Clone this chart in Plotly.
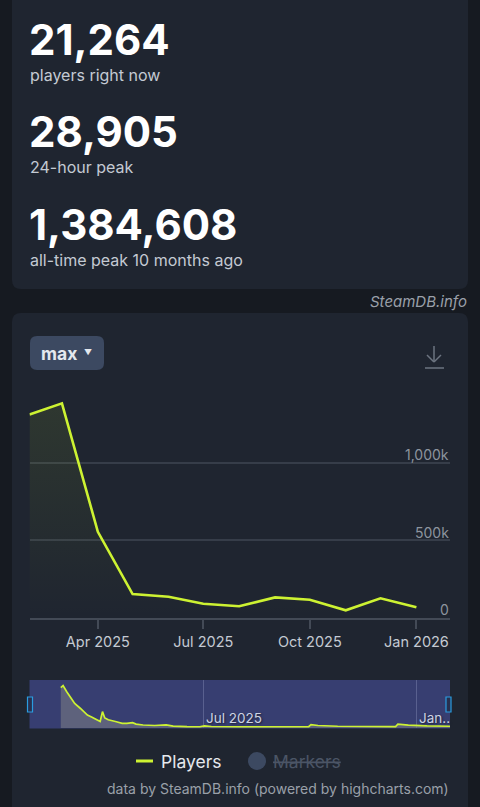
import plotly.graph_objects as go

W, H = 480, 807

# monthly points (main chart)
month_dates = ["2025-02-01", "2025-03-01", "2025-04-01", "2025-05-01", "2025-06-01", "2025-07-01",
               "2025-08-01", "2025-09-01", "2025-10-01", "2025-11-01", "2025-12-01", "2026-01-01"]
month_players = [1312000, 1384608, 555000, 153000, 135000, 90000,
                 74000, 131000, 116000, 48000, 125000, 67000]

# navigator series (daily-ish)
nav_dates = ["2025-02-28", "2025-03-02", "2025-03-05", "2025-03-08", "2025-03-12", "2025-03-17",
             "2025-03-20", "2025-03-23", "2025-03-27", "2025-04-01", "2025-04-03", "2025-04-05",
             "2025-04-07", "2025-04-10", "2025-04-13", "2025-04-17", "2025-04-22", "2025-04-26",
             "2025-05-01", "2025-05-04", "2025-05-10", "2025-05-20", "2025-05-30", "2025-06-05",
             "2025-06-17", "2025-06-28", "2025-07-02", "2025-07-08", "2025-08-01", "2025-09-01",
             "2025-09-30", "2025-10-02", "2025-10-08", "2025-10-25", "2025-11-15", "2025-12-01",
             "2025-12-14", "2025-12-16", "2025-12-25", "2026-01-10", "2026-01-30"]
nav_players = [1320000, 1384608, 1200000, 1030000, 820000, 660000,
               560000, 450000, 380000, 300000, 245000, 560000,
               360000, 300000, 265000, 240000, 190000, 185000,
               210000, 165000, 135000, 120000, 140000, 100000,
               82000, 80000, 110000, 88000, 80000, 78000,
               82000, 150000, 120000, 95000, 82000, 80000,
               85000, 160000, 130000, 105000, 95000]

x_range = ["2025-02-01", "2026-01-30"]
x_tickvals = ["2025-04-01", "2025-07-01", "2025-10-01", "2026-01-01"]
x_ticktext = ["Apr 2025", "Jul 2025", "Oct 2025", "Jan 2026"]
y_tickvals = [0, 500000, 1000000, 1500000]
y_ticktext = ["0", "500k", "1,000k", ""]

PAGE = "#161a21"
CARD = "#1f2530"
GRID = "#363d49"
LINE = "#cdf232"
FONT = "Inter"


def px(x):
    return x / W


def py(y):
    return 1 - y / H


def rrect(x0, y0, x1, y1, r):
    pts = [("M", x0 + r, y0), ("L", x1 - r, y0), ("Q", x1, y0, x1, y0 + r), ("L", x1, y1 - r),
           ("Q", x1, y1, x1 - r, y1), ("L", x0 + r, y1), ("Q", x0, y1, x0, y1 - r),
           ("L", x0, y0 + r), ("Q", x0, y0, x0 + r, y0)]
    out = ""
    for p in pts:
        coords = p[1:]
        s = []
        for i in range(0, len(coords), 2):
            s.append(f"{px(coords[i]):.5f},{py(coords[i + 1]):.5f}")
        out += p[0] + " " + " ".join(s) + " "
    return out + "Z"


fig = go.Figure()

# main line with gradient fill
fig.add_trace(go.Scatter(
    x=month_dates, y=month_players, mode="lines",
    line=dict(color=LINE, width=2.6),
    fill="tozeroy",
    fillgradient=dict(type="vertical",
                      colorscale=[[0, "rgba(201,240,44,0)"], [1, "rgba(201,240,44,0.09)"]]),
    xaxis="x", yaxis="y", showlegend=False, hoverinfo="skip"
))

# navigator
fig.add_trace(go.Scatter(
    x=nav_dates, y=nav_players, mode="lines",
    line=dict(color=LINE, width=1.7),
    fill="tozeroy", fillcolor="rgba(120,124,132,0.6)",
    xaxis="x2", yaxis="y2", showlegend=False, hoverinfo="skip"
))

x0d, x1d = px(29.5), px(450)

fig.update_layout(
    width=W, height=H,
    margin=dict(l=0, r=0, t=0, b=0),
    paper_bgcolor=PAGE, plot_bgcolor="rgba(0,0,0,0)",
    font=dict(family=FONT, color="#c4cad3"),
    xaxis=dict(domain=[x0d, x1d], range=x_range, type="date",
               tickvals=x_tickvals, ticktext=x_ticktext,
               showgrid=False, zeroline=False,
               showline=True, linecolor="#434a56", linewidth=1.5,
               ticks="outside", ticklen=10, tickcolor="#434a56", tickwidth=1.5,
               tickfont=dict(size=14.5, color="#c4cad3"), fixedrange=True),
    yaxis=dict(domain=[py(617.7), py(385.5)], range=[0, 1500000],
               tickvals=y_tickvals, showticklabels=False,
               showgrid=True, gridcolor=GRID, gridwidth=1.5, zeroline=False,
               fixedrange=True),
    xaxis2=dict(domain=[x0d, x1d], range=x_range, type="date",
                tickvals=["2025-07-01", "2026-01-01"], showticklabels=False,
                showgrid=True, gridcolor="#59608f", gridwidth=1, zeroline=False,
                showline=False, anchor="y2", fixedrange=True),
    yaxis2=dict(domain=[py(728), py(680)], range=[40000, 1565000],
                showgrid=False, showticklabels=False, zeroline=False,
                anchor="x2", fixedrange=True),
)

shapes = [
    # cards
    dict(type="path", path=rrect(12, -20, 468, 289, 9)),
    dict(type="path", path=rrect(12, 313, 468, 830, 9)),
    # max button
    dict(type="path", path=rrect(30, 336, 104, 370, 7), fillcolor="#3c4961"),
]
for s in shapes:
    s.update(xref="paper", yref="paper", line=dict(width=0), layer="below")
    s.setdefault("fillcolor", CARD)

icon = "#6c7480"
shapes += [
    # download icon
    dict(type="line", xref="paper", yref="paper", x0=px(434), x1=px(434), y0=py(346), y1=py(362),
         line=dict(color=icon, width=1.5)),
    dict(type="line", xref="paper", yref="paper", x0=px(427), x1=px(434), y0=py(355), y1=py(362),
         line=dict(color=icon, width=1.5)),
    dict(type="line", xref="paper", yref="paper", x0=px(441), x1=px(434), y0=py(355), y1=py(362),
         line=dict(color=icon, width=1.5)),
    dict(type="line", xref="paper", yref="paper", x0=px(425), x1=px(444), y0=py(368), y1=py(368),
         line=dict(color=icon, width=1.5)),
    # navigator background
    dict(type="rect", xref="paper", yref="paper", x0=x0d, x1=x1d, y0=py(728.5), y1=py(680),
         fillcolor="#373e71", line=dict(width=0), layer="below"),
    # navigator handles
    dict(type="rect", xref="paper", yref="paper", x0=px(27.5), x1=px(32.5), y0=py(712), y1=py(697),
         fillcolor="#28304f", line=dict(color="#2a9ce0", width=1.2)),
    dict(type="rect", xref="paper", yref="paper", x0=px(446), x1=px(451), y0=py(712), y1=py(697),
         fillcolor="#28304f", line=dict(color="#2a9ce0", width=1.2)),
    # legend symbols
    dict(type="line", xref="paper", yref="paper", x0=px(136), x1=px(153), y0=py(761), y1=py(761),
         line=dict(color=LINE, width=3)),
    dict(type="circle", xref="paper", yref="paper", x0=px(248), x1=px(266), y0=py(770), y1=py(752),
         fillcolor="#3c4961", line=dict(width=0)),
]
fig.update_layout(shapes=shapes)

# y tick labels sit above their gridlines, right-aligned inside the plot
for v, t in zip(y_tickvals, y_ticktext):
    if t:
        fig.add_annotation(text=t, x=px(450.5), y=v, xref="paper", yref="y",
                           xanchor="right", yanchor="middle", yshift=8, showarrow=False,
                           font=dict(family=FONT, size=14, color="#8d949e"))


def note(text, x, y, size, color="#c4cad3", anchor="left", weight=400, **kw):
    fig.add_annotation(text=text, x=px(x), y=py(y), xref="paper", yref="paper",
                       xanchor=anchor, yanchor="middle", showarrow=False,
                       font=dict(family=FONT, size=size, color=color, weight=weight, **kw))


note("21,264", 27, 40, 42, "#ffffff", weight=700)
note("players right now", 28, 75, 16, "#c4cad3")
note("28,905", 27, 132, 42, "#ffffff", weight=700)
note("24-hour peak", 28, 167, 16)
note("1,384,608", 27, 224, 42, "#ffffff", weight=700)
note("all-time peak 10 months ago", 28, 260, 16)
note("<i>SteamDB.info</i>", 469, 301, 15, "#9aa0a9", anchor="right")
note("max", 39, 353, 17.5, "#e4e8ee", weight=700)
note("▼", 82, 352, 8, "#e4e8ee")
note("Jul 2025", 204, 718, 13.5, "#cdd3e3", shadow="1px 1px 2px #1a1f33")
note("Jan..", 417, 718, 13.5, "#cdd3e3", shadow="1px 1px 2px #1a1f33")
note("Players", 159, 761, 17.5, "#e6e9ee")
note("Markers", 271, 761, 17.5, "#4b5566", lineposition="through")
note("data by SteamDB.info (powered by highcharts.com)", 451, 788, 14, "#9aa0a9", anchor="right")

fig.write_html("out.html", config={"displayModeBar": False},
               post_script="document.body.style.margin='0';")
